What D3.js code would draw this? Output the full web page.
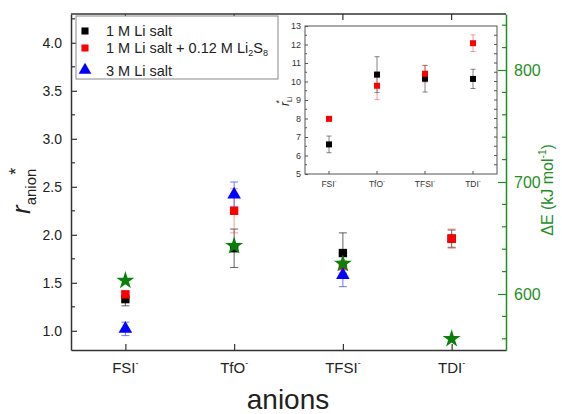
<!DOCTYPE html>
<html>
<head>
<meta charset="utf-8">
<script src="https://cdn.jsdelivr.net/npm/d3@7/dist/d3.min.js"></script>
<style>
body { margin: 0; background: #fff; }
text { font-family: Arial, 'Liberation Sans', sans-serif; }
</style>
</head>
<body>
<div class="container"></div>
<script>
// anion categories
var anions = ['FSI', 'TfO', 'TFSI', 'TDI'];

// main plot: r*anion
var salt1M = [1.33, 1.86, 1.81, 1.96];
var salt1MErr = [0.07, 0.2, 0.21, 0.09];
var saltLi2S8 = [1.38, 2.25, 1.68, 1.96];
var saltLi2S8Err = [0.03, 0.23, 0.05, 0.1];
var salt3M = [1.02, 2.42, 1.58, null];
var salt3MErr = [0.07, 0.13, 0.12, null];
var deltaE = [612, 643, 627, 560];

// inset: r*Li
var insetSalt1M = [6.6, 10.37, 10.15, 10.14];
var insetSalt1MErr = [0.45, 0.97, 0.72, 0.52];
var insetLi2S8 = [7.98, 9.77, 10.42, 12.07];
var insetLi2S8Err = [0.08, 0.75, 0.45, 0.45];

var leftTicks = [1.0, 1.5, 2.0, 2.5, 3.0, 3.5, 4.0];
var rightTicks = [600, 700, 800];
var insetTicks = [5, 6, 7, 8, 9, 10, 11, 12, 13];

var green = '#1f8f1f';
var axisColor = '#333';

var svg = d3
	.select('.container')
	.append('svg')
	.attr('width', 562)
	.attr('height', 414);

var x = d3.scaleLinear().domain([0.5, 4.5]).range([71, 506]);
var y = d3.scaleLinear().domain([0.8, 4.3]).range([350, 14]);
var yE = d3.scaleLinear().domain([550, 850]).range([350, 14]);

var main = svg.append('g');

// top border
main.append('line')
	.attr('x1', 71).attr('x2', 506).attr('y1', 14).attr('y2', 14)
	.attr('stroke', axisColor).attr('stroke-width', 1.5);

// left axis
var leftAxis = d3.axisLeft(y).tickValues(leftTicks).tickSizeInner(-6).tickSizeOuter(0)
	.tickPadding(9).tickFormat(d3.format('.1f'));
var gl = main.append('g').attr('transform', 'translate(71,0)').call(leftAxis);
gl.select('.domain').attr('stroke', axisColor).attr('stroke-width', 1.5);
gl.selectAll('.tick line').attr('stroke', axisColor).attr('stroke-width', 1.2);
gl.selectAll('.tick text').attr('font-size', 14).attr('fill', '#222')
	.attr('font-family', "Arial, 'Liberation Sans', sans-serif");
var leftMinor = d3.range(1.25, 4.3, 0.5);
main.append('g').selectAll('line').data(leftMinor).enter().append('line')
	.attr('x1', 71).attr('x2', 75)
	.attr('y1', function(d) { return y(d); }).attr('y2', function(d) { return y(d); })
	.attr('stroke', axisColor).attr('stroke-width', 1.2);

// bottom axis
var bottomAxis = d3.axisBottom(x).tickValues([1, 2, 3, 4]).tickSizeInner(-6).tickSizeOuter(0)
	.tickFormat('');
var gb = main.append('g').attr('transform', 'translate(0,350)').call(bottomAxis);
gb.select('.domain').attr('stroke', axisColor).attr('stroke-width', 1.5);
gb.selectAll('.tick line').attr('stroke', axisColor).attr('stroke-width', 1.2);

// top ticks
main.append('g').selectAll('line').data([1, 2, 3, 4]).enter().append('line')
	.attr('x1', function(d) { return x(d); }).attr('x2', function(d) { return x(d); })
	.attr('y1', 14).attr('y2', 20)
	.attr('stroke', axisColor).attr('stroke-width', 1.2);

// category labels
var catLabels = main.append('g').selectAll('text').data(anions).enter().append('text')
	.attr('x', function(d, i) { return x(i + 1); })
	.attr('y', 373)
	.attr('text-anchor', 'middle')
	.attr('font-size', 15)
	.attr('fill', '#222');
catLabels.append('tspan').text(function(d) { return d; });
catLabels.append('tspan').attr('font-size', 9).attr('dy', -7).text('-');

main.append('text')
	.attr('x', 288).attr('y', 409)
	.attr('text-anchor', 'middle')
	.attr('font-size', 28)
	.attr('fill', '#222')
	.text('anions');

// left label r*anion
var yl = main.append('text')
	.attr('transform', 'translate(30,214) rotate(-90)')
	.attr('fill', '#222');
yl.append('tspan').attr('font-size', 26).attr('font-style', 'italic').text('r');
yl.append('tspan').attr('font-size', 15).attr('dy', 6).text('anion');
yl.append('tspan').attr('font-size', 18).attr('dy', -14).attr('dx', -6).text('*');

// right axis (green)
var rightAxis = d3.axisRight(yE).tickValues(rightTicks).tickSizeInner(-8).tickSizeOuter(0)
	.tickPadding(8).tickFormat(d3.format('d'));
var gr = main.append('g').attr('transform', 'translate(506,0)').call(rightAxis);
gr.select('.domain').attr('stroke', green).attr('stroke-width', 1.5);
gr.selectAll('.tick line').attr('stroke', green).attr('stroke-width', 1.2);
gr.selectAll('.tick text').attr('font-size', 16).attr('fill', green)
	.attr('font-family', "Arial, 'Liberation Sans', sans-serif");
var rightMinor = d3.range(560, 850, 20).filter(function(d) { return d % 100 !== 0; });
main.append('g').selectAll('line').data(rightMinor).enter().append('line')
	.attr('x1', 506).attr('x2', 502)
	.attr('y1', function(d) { return yE(d); }).attr('y2', function(d) { return yE(d); })
	.attr('stroke', green).attr('stroke-width', 1.2);

var rl = main.append('text')
	.attr('transform', 'translate(553,190) rotate(-90)')
	.attr('text-anchor', 'middle')
	.attr('font-size', 16)
	.attr('fill', green);
rl.append('tspan').text('\u0394E (kJ mol');
rl.append('tspan').attr('font-size', 10).attr('dy', -7).text('-1');
rl.append('tspan').attr('dy', 7).text(')');

// error bars helper
function errorBars(g, sx, sy, vals, errs, color, cap) {
	var d = vals.map(function(v, i) { return { i: i, v: v, e: errs[i] }; })
		.filter(function(p) { return p.v != null; });
	var eb = g.append('g').attr('stroke', color).attr('stroke-width', 1);
	eb.selectAll('.v').data(d).enter().append('line')
		.attr('x1', function(p) { return sx(p.i + 1); })
		.attr('x2', function(p) { return sx(p.i + 1); })
		.attr('y1', function(p) { return sy(p.v - p.e); })
		.attr('y2', function(p) { return sy(p.v + p.e); });
	[-1, 1].forEach(function(s) {
		eb.selectAll('.c' + s).data(d).enter().append('line')
			.attr('x1', function(p) { return sx(p.i + 1) - cap; })
			.attr('x2', function(p) { return sx(p.i + 1) + cap; })
			.attr('y1', function(p) { return sy(p.v + s * p.e); })
			.attr('y2', function(p) { return sy(p.v + s * p.e); });
	});
}

function markers(g, sx, sy, vals, type, size, color) {
	var d = vals.map(function(v, i) { return { i: i, v: v }; })
		.filter(function(p) { return p.v != null; });
	g.append('g').selectAll('path').data(d).enter().append('path')
		.attr('d', d3.symbol().type(type).size(size))
		.attr('transform', function(p) {
			return 'translate(' + sx(p.i + 1) + ',' + sy(p.v) + ')';
		})
		.attr('fill', color);
}

var data = main.append('g');
errorBars(data, x, y, salt1M, salt1MErr, 'rgba(60,60,60,0.8)', 4);
errorBars(data, x, y, saltLi2S8, saltLi2S8Err, 'rgba(255,80,80,0.6)', 4);
errorBars(data, x, y, salt3M, salt3MErr, 'rgba(60,60,255,0.7)', 4);
markers(data, x, y, salt1M, d3.symbolSquare, 70, '#000');
markers(data, x, y, saltLi2S8, d3.symbolSquare, 70, '#ff0000');
markers(data, x, y, salt3M, d3.symbolTriangle, 80, '#0000ff');
markers(data, x, yE, deltaE, d3.symbolStar, 100, '#0a800a');

// legend
var lg = main.append('g');
lg.append('rect').attr('x', 76).attr('y', 16).attr('width', 202).attr('height', 63)
	.attr('fill', '#fff').attr('stroke', '#888').attr('stroke-width', 1);
var legendItems = [
	{ type: d3.symbolSquare, color: '#000', size: 50, cy: 31 },
	{ type: d3.symbolSquare, color: '#ff0000', size: 50, cy: 48 },
	{ type: d3.symbolTriangle, color: '#0000ff', size: 70, cy: 70 }
];
lg.selectAll('path').data(legendItems).enter().append('path')
	.attr('d', function(d) { return d3.symbol().type(d.type).size(d.size)(); })
	.attr('transform', function(d) { return 'translate(85,' + d.cy + ')'; })
	.attr('fill', function(d) { return d.color; });
var lt = lg.append('g').attr('font-size', 14.5).attr('fill', '#222');
lt.append('text').attr('x', 106).attr('y', 36).text('1 M Li salt');
var lt2 = lt.append('text').attr('x', 106).attr('y', 53);
lt2.append('tspan').text('1 M Li salt + 0.12 M Li');
lt2.append('tspan').attr('font-size', 9).attr('dy', 3).text('2');
lt2.append('tspan').attr('dy', -3).text('S');
lt2.append('tspan').attr('font-size', 9).attr('dy', 3).text('8');
lt.append('text').attr('x', 106).attr('y', 76).text('3 M Li salt');

// inset
var ix = d3.scaleLinear().domain([0.5, 4.5]).range([305, 497]);
var iy = d3.scaleLinear().domain([5, 13]).range([174, 26]);
var inset = svg.append('g');
inset.append('rect').attr('x', 305).attr('y', 26).attr('width', 192).attr('height', 148)
	.attr('fill', '#fff').attr('stroke', '#555').attr('stroke-width', 1);

var ila = d3.axisLeft(iy).tickValues(insetTicks).tickSizeInner(-3).tickSizeOuter(0).tickPadding(4);
var gil = inset.append('g').attr('transform', 'translate(305,0)').call(ila);
gil.select('.domain').remove();
gil.selectAll('.tick line').attr('stroke', '#555');
gil.selectAll('.tick text').attr('font-size', 9).attr('fill', '#333')
	.attr('font-family', "Arial, 'Liberation Sans', sans-serif");
var insetMinor = d3.range(5.5, 13, 1);
inset.append('g').selectAll('line').data(insetMinor).enter().append('line')
	.attr('x1', 305).attr('x2', 307)
	.attr('y1', function(d) { return iy(d); }).attr('y2', function(d) { return iy(d); })
	.attr('stroke', '#555');
inset.append('g').selectAll('line').data(d3.range(5.5, 13, 0.5)).enter().append('line')
	.attr('x1', 497).attr('x2', 494)
	.attr('y1', function(d) { return iy(d); }).attr('y2', function(d) { return iy(d); })
	.attr('stroke', '#555');
inset.append('g').selectAll('line').data([1, 2, 3, 4]).enter().append('line')
	.attr('x1', function(d) { return ix(d); }).attr('x2', function(d) { return ix(d); })
	.attr('y1', 174).attr('y2', 171)
	.attr('stroke', '#555');

var icl = inset.append('g').selectAll('text').data(anions).enter().append('text')
	.attr('x', function(d, i) { return ix(i + 1); })
	.attr('y', 187)
	.attr('text-anchor', 'middle')
	.attr('font-size', 8.5)
	.attr('fill', '#333');
icl.append('tspan').text(function(d) { return d; });
icl.append('tspan').attr('font-size', 6).attr('dy', -4).text('-');

var iyl = inset.append('text')
	.attr('transform', 'translate(289,106) rotate(-90)')
	.attr('fill', '#222');
iyl.append('tspan').attr('font-size', 12).attr('font-style', 'italic').text('r');
iyl.append('tspan').attr('font-size', 7).attr('dy', 3).text('Li');
iyl.append('tspan').attr('font-size', 9).attr('dy', -10).attr('dx', -7).text('*');

var idata = inset.append('g');
errorBars(idata, ix, iy, insetSalt1M, insetSalt1MErr, 'rgba(80,80,80,0.7)', 2.5);
errorBars(idata, ix, iy, insetLi2S8, insetLi2S8Err, 'rgba(255,80,80,0.6)', 2.5);
markers(idata, ix, iy, insetSalt1M, d3.symbolSquare, 36, '#000');
markers(idata, ix, iy, insetLi2S8, d3.symbolSquare, 36, '#ff0000');
</script>
</body>
</html>
